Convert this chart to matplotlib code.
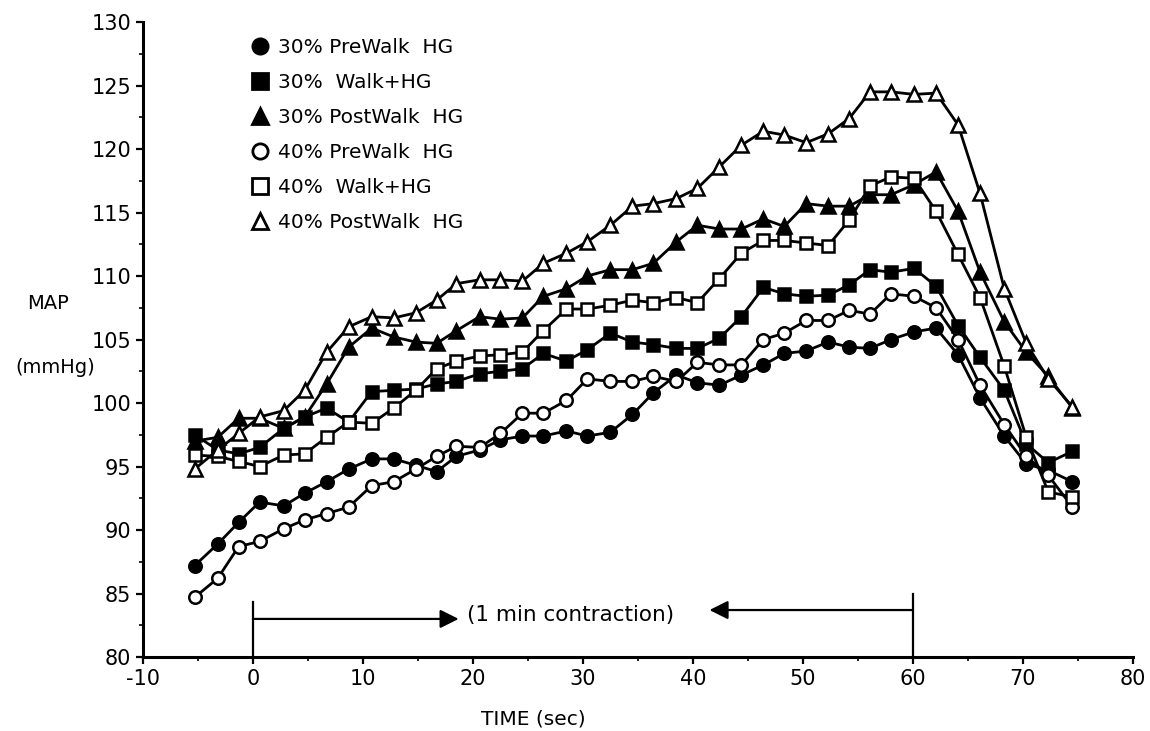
import numpy as np
import matplotlib
matplotlib.use('Agg')
import matplotlib.pyplot as plt
from matplotlib.lines import Line2D

#==============DATA===========================================================
# Time of each sample (sec)
time_sec = [-5.3, -3.2, -1.3, 0.6, 2.8, 4.7, 6.7, 8.7, 10.8, 12.8, 14.8, 16.7, 18.5, 20.6,
            22.5, 24.5, 26.4, 28.5, 30.4, 32.5, 34.5, 36.4, 38.5, 40.4, 42.4, 44.4, 46.4,
            48.3, 50.3, 52.3, 54.2, 56.1, 58.0, 60.1, 62.1, 64.1, 66.1, 68.3, 70.3, 72.3, 74.5]

# MAP (mmHg) for each condition
pre30 = [87.2, 88.9, 90.6, 92.2, 91.9, 92.9, 93.8, 94.8, 95.6, 95.6, 95.1, 94.6, 95.8, 96.3,
         97.1, 97.4, 97.4, 97.8, 97.4, 97.7, 99.1, 100.8, 102.2, 101.6, 101.4, 102.2, 103.0,
         103.9, 104.1, 104.8, 104.4, 104.3, 105.0, 105.6, 105.9, 103.8, 100.4, 97.4, 95.2, 94.7, 93.8]
walk30 = [97.5, 96.3, 96.0, 96.5, 98.0, 98.9, 99.6, 98.5, 100.9, 101.0, 101.1, 101.5, 101.7, 102.3,
          102.5, 102.7, 103.9, 103.3, 104.2, 105.5, 104.8, 104.6, 104.3, 104.3, 105.1, 106.8, 109.1,
          108.6, 108.4, 108.5, 109.3, 110.5, 110.3, 110.6, 109.2, 106.1, 103.6, 101.0, 96.8, 95.3, 96.2]
post30 = [97.0, 97.3, 98.8, 98.8, 98.0, 98.9, 101.5, 104.4, 105.9, 105.2, 104.8, 104.7, 105.7, 106.8,
          106.6, 106.7, 108.4, 109.0, 110.0, 110.5, 110.5, 111.0, 112.7, 114.0, 113.7, 113.7, 114.5,
          113.9, 115.7, 115.5, 115.5, 116.4, 116.4, 117.2, 118.2, 115.1, 110.3, 106.4, 104.0, 102.1, 99.6]
pre40 = [84.7, 86.2, 88.7, 89.1, 90.1, 90.8, 91.3, 91.8, 93.5, 93.8, 94.8, 95.8, 96.6, 96.5,
         97.6, 99.2, 99.2, 100.2, 101.9, 101.7, 101.7, 102.1, 101.7, 103.2, 103.0, 103.0, 105.0,
         105.5, 106.5, 106.5, 107.3, 107.0, 108.6, 108.4, 107.5, 105.0, 101.4, 98.3, 95.8, 94.3, 91.8]
walk40 = [95.9, 95.8, 95.4, 95.0, 95.9, 96.0, 97.3, 98.5, 98.4, 99.6, 101.0, 102.7, 103.3, 103.7,
          103.8, 104.0, 105.7, 107.4, 107.4, 107.7, 108.1, 107.9, 108.3, 107.9, 109.8, 111.8, 112.8,
          112.8, 112.6, 112.4, 114.4, 117.1, 117.8, 117.7, 115.1, 111.7, 108.3, 102.9, 97.3, 93.0, 92.6]
post40 = [94.8, 96.3, 97.6, 98.9, 99.4, 101.0, 104.0, 106.0, 106.8, 106.7, 107.1, 108.1, 109.4, 109.7,
          109.7, 109.6, 111.0, 111.8, 112.7, 114.0, 115.5, 115.7, 116.1, 116.9, 118.6, 120.3, 121.4,
          121.1, 120.5, 121.2, 122.4, 124.5, 124.5, 124.3, 124.4, 121.9, 116.5, 109.0, 104.7, 101.9, 99.7]

series_labels = ['30% PreWalk  HG', '30%  Walk+HG', '30% PostWalk  HG',
                 '40% PreWalk  HG', '40%  Walk+HG', '40% PostWalk  HG']
series_data = [pre30, walk30, post30, pre40, walk40, post40]
series_marker = ['o', 's', '^', 'o', 's', '^']
series_filled = [True, True, True, False, False, False]

#==============PLOT===========================================================
plt.rcParams['font.family'] = 'DejaVu Sans'
plt.rcParams['axes.unicode_minus'] = False
fig = plt.figure(figsize=(11.5, 7.31), dpi=100)
ax = fig.add_axes([0.1243, 0.1012, 0.8609, 0.8687])

# Filled series first, open symbols on top
for idx in range(6):
    face = 'black' if series_filled[idx] else 'white'
    ms = 9 if series_marker[idx] != '^' else 9.5
    ax.plot(time_sec, series_data[idx], color='black', linewidth=2.0,
            marker=series_marker[idx], markersize=ms, markerfacecolor=face,
            markeredgecolor='black', markeredgewidth=1.8, zorder=3)

# Contraction arrows
ax.plot([0, 0], [80, 84.3], color='black', linewidth=1.6)
ax.plot([60, 60], [80, 85.0], color='black', linewidth=1.6)
ax.annotate('', xy=(18.7, 83.0), xytext=(0, 83.0),
            arrowprops=dict(arrowstyle='-|>', color='black', lw=1.6, mutation_scale=28, shrinkA=0, shrinkB=0))
ax.annotate('', xy=(41.5, 83.7), xytext=(60, 83.7),
            arrowprops=dict(arrowstyle='-|>', color='black', lw=1.6, mutation_scale=28, shrinkA=0, shrinkB=0))
ax.text(19.5, 83.3, '(1 min contraction)', fontsize=15.5, va='center', ha='left')

# Legend (symbols only)
handles = []
for idx in range(6):
    face = 'black' if series_filled[idx] else 'white'
    handles.append(Line2D([], [], linestyle='none', marker=series_marker[idx], markersize=11,
                          markerfacecolor=face, markeredgecolor='black', markeredgewidth=2))
ax.legend(handles, series_labels, loc='upper left', bbox_to_anchor=(0.09, 1.006), frameon=False,
          fontsize=14.5, handlelength=0.8, handletextpad=0.5, labelspacing=0.79, borderpad=0.5)

# Axes
ax.set_xlim(-10, 80)
ax.set_ylim(80, 130)
ax.set_xticks(np.arange(-10, 81, 10))
ax.set_xticks(np.arange(-10, 81, 5), minor=True)
ax.set_yticks(np.arange(80, 131, 5))
ax.set_yticks(np.arange(80, 131, 2.5), minor=True)
ax.tick_params(axis='both', which='major', labelsize=15, length=5, width=1.6, direction='out')
ax.tick_params(axis='both', which='minor', length=3, width=1.2, direction='out')
for side in ['top', 'right']:
    ax.spines[side].set_visible(False)
ax.spines['left'].set_linewidth(2.2)
ax.spines['bottom'].set_linewidth(2.2)

# Labels
ax.set_xlabel('TIME (sec)', fontsize=14.5)
ax.xaxis.set_label_coords(0.394, -0.083)
fig.text(0.042, 0.585, 'MAP', fontsize=14, ha='center', va='center')
fig.text(0.048, 0.497, '(mmHg)', fontsize=14, ha='center', va='center')

fig.savefig('out.png', dpi=100)
